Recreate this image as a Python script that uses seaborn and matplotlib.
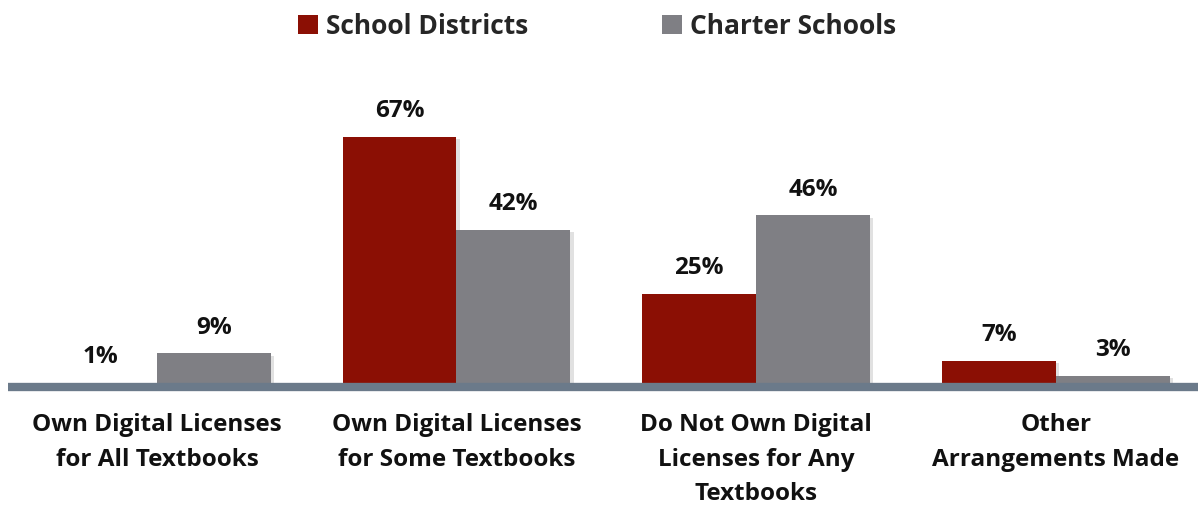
import matplotlib
matplotlib.use("Agg")
import matplotlib.pyplot as plt
import matplotlib.patheffects as pe
import seaborn as sns
import pandas as pd

categories = ["Own Digital Licenses\nfor All Textbooks",
              "Own Digital Licenses\nfor Some Textbooks",
              "Do Not Own Digital\nLicenses for Any\nTextbooks",
              "Other\nArrangements Made"]
series_names = ["School Districts", "Charter Schools"]
districts = [1, 67, 25, 7]
charters = [9, 42, 46, 3]

colors = ["#8B0F04", "#7F7F84"]
base_color = "#6B7A8A"

rows = []
for c, d, s in zip(categories, districts, charters):
    rows.append({"category": c, "type": series_names[0], "value": d})
    rows.append({"category": c, "type": series_names[1], "value": s})
df = pd.DataFrame(rows)

sns.set_theme(style="white")
plt.rcParams["font.family"] = ["Open Sans", "DejaVu Sans"]
plt.rcParams["font.weight"] = "bold"

fig = plt.figure(figsize=(12.01, 5.08), dpi=100)
ax = fig.add_axes([8 / 1201, 1 - 387 / 508, 1190 / 1201, 327 / 508])

sns.barplot(data=df, x="category", y="value", hue="type", palette=colors,
            width=0.76, ax=ax, legend=True, saturation=1, linewidth=0)

for p in ax.patches:
    p.set_path_effects([pe.SimplePatchShadow(offset=(2.5, -1.5), alpha=0.22, shadow_rgbFace="#777777"), pe.Normal()])

for cont in ax.containers:
    ax.bar_label(cont, labels=[f"{int(v)}%" for v in cont.datavalues], padding=10,
                 fontsize=17.5, fontweight="bold", color="#111111")

ax.set_xlim(-0.497, 3.475)
ax.set_ylim(0, 327 / 3.73)
ax.axhline(0, color=base_color, linewidth=6, zorder=5, clip_on=False, solid_capstyle="butt")

for s in ax.spines.values():
    s.set_visible(False)
ax.set_yticks([])
ax.set_xlabel("")
ax.set_ylabel("")
ax.tick_params(axis="x", length=0, pad=19)
for t in ax.get_xticklabels():
    t.set_fontsize(17.5)
    t.set_fontweight("bold")
    t.set_color("#111111")
    t.set_linespacing(1.58)
    t.set_verticalalignment("top")

leg = ax.get_legend()
handles = leg.legend_handles
leg.remove()
fig.legend(handles, series_names, loc="center", bbox_to_anchor=(597 / 1201, 1 - 26 / 508),
           ncol=2, frameon=False, handlelength=0.75, handleheight=0.75,
           handletextpad=0.3, columnspacing=5.1, prop={"weight": "bold", "size": 19})

fig.savefig("out.png", dpi=100)
